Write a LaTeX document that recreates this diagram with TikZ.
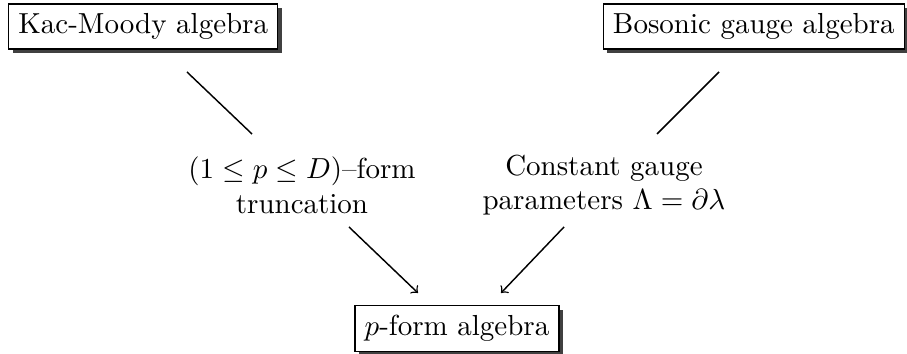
\documentclass[tikz,border=0pt]{standalone}
\usetikzlibrary{shadows}
\begin{document}
\begin{tikzpicture}[x=0.345pt,y=-0.345pt,
  box/.style={draw, fill=white, line width=0.5pt,
    drop shadow={shadow xshift=1.4pt, shadow yshift=-1.4pt, opacity=1, fill=black!75}},
  conn/.style={line width=0.5pt},
  arr/.style={conn,->}]
\useasboundingbox (0,0) rectangle (907,354);
\node[box, anchor=west] (km) at (8,26.5) {Kac-Moody algebra};
\node[box, anchor=east] (bg) at (905,26.5) {Bosonic gauge algebra};
\node[box] (pf) at (457,328.5) {$p$-form algebra};
\node[align=center] (lt) at (302,185) {$(1\leq p\leq D)$--form\\truncation};
\node[align=center] (rt) at (604,185) {Constant gauge\\parameters $\Lambda=\partial\lambda$};
\coordinate (l1a) at (187,72);
\coordinate (l1b) at (252,134);
\coordinate (l2a) at (719,72);
\coordinate (l2b) at (657,134);
\coordinate (a1a) at (349,227);
\coordinate (a1b) at (418,293);
\coordinate (a2a) at (564,227);
\coordinate (a2b) at (501,293);
\draw[conn] (l1a) -- (l1b);
\draw[conn] (l2a) -- (l2b);
\draw[arr] (a1a) -- (a1b);
\draw[arr] (a2a) -- (a2b);
\end{tikzpicture}
\end{document}
